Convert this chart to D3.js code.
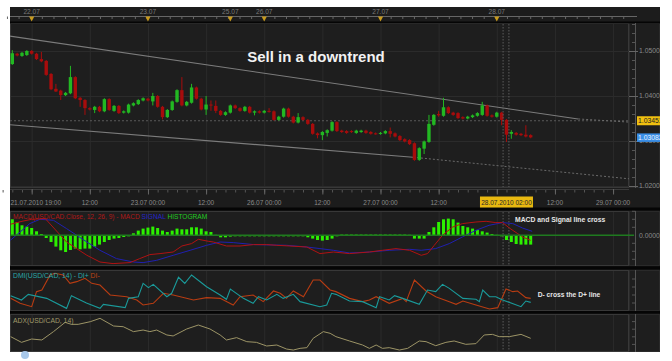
<!DOCTYPE html>
<html><head><meta charset="utf-8">
<script src="https://cdn.jsdelivr.net/npm/d3@7"></script>
<style>body{margin:0;background:#fff}svg{display:block}text{font-family:"Liberation Sans",Arial,sans-serif}</style>
</head><body>
<script>
// ---------------- DATA ----------------
const candleOpen = [1.0471,1.0494,1.0489,1.0491,1.0500,1.0494,1.0482,1.0478,1.0449,1.0416,
1.0412,1.0402,1.0406,1.0442,1.0396,1.0391,1.0373,1.0369,1.0376,1.0366,
1.0393,1.0367,1.0378,1.0363,1.0363,1.0379,1.0382,1.0390,1.0394,1.0388,
1.0400,1.0376,1.0353,1.0369,1.0387,1.0413,1.0379,1.0385,1.0419,1.0394,
1.0370,1.0381,1.0378,1.0367,1.0358,1.0363,1.0379,1.0373,1.0367,1.0376,
1.0363,1.0366,1.0363,1.0367,1.0366,1.0347,1.0354,1.0372,1.0354,1.0341,
1.0353,1.0347,1.0338,1.0317,1.0313,1.0318,1.0323,1.0342,1.0323,1.0322,
1.0322,1.0318,1.0320,1.0323,1.0320,1.0317,1.0316,1.0317,1.0322,1.0317,
1.0311,1.0304,1.0302,1.0295,1.0258,1.0283,1.0298,1.0336,1.0360,1.0356,
1.0375,1.0363,1.0362,1.0353,1.0350,1.0353,1.0356,1.0358,1.0379,1.0357,
1.0354,1.0363,1.0347,1.0316,1.0318,1.0316,1.0314,1.0313];
const candleHigh = [1.0502,1.0496,1.0498,1.0502,1.0502,1.0496,1.0498,1.0480,1.0451,1.0427,
1.0414,1.0409,1.0467,1.0444,1.0398,1.0393,1.0375,1.0378,1.0378,1.0395,
1.0395,1.0380,1.0380,1.0368,1.0383,1.0386,1.0393,1.0397,1.0396,1.0407,
1.0402,1.0378,1.0371,1.0390,1.0415,1.0442,1.0389,1.0427,1.0421,1.0396,
1.0400,1.0390,1.0390,1.0369,1.0366,1.0381,1.0381,1.0375,1.0378,1.0378,
1.0368,1.0368,1.0369,1.0373,1.0368,1.0356,1.0374,1.0374,1.0356,1.0362,
1.0355,1.0349,1.0340,1.0319,1.0322,1.0326,1.0344,1.0344,1.0325,1.0324,
1.0324,1.0325,1.0325,1.0325,1.0322,1.0319,1.0320,1.0324,1.0330,1.0319,
1.0313,1.0306,1.0304,1.0297,1.0286,1.0301,1.0358,1.0360,1.0367,1.0396,
1.0377,1.0365,1.0364,1.0355,1.0356,1.0359,1.0364,1.0387,1.0381,1.0359,
1.0365,1.0365,1.0349,1.0324,1.0320,1.0318,1.0335,1.0315];
const candleLow = [1.0469,1.0488,1.0487,1.0489,1.0492,1.0480,1.0475,1.0445,1.0413,1.0409,
1.0391,1.0400,1.0404,1.0393,1.0376,1.0358,1.0368,1.0362,1.0364,1.0364,
1.0367,1.0365,1.0360,1.0361,1.0361,1.0377,1.0380,1.0388,1.0388,1.0379,
1.0374,1.0348,1.0351,1.0367,1.0385,1.0377,1.0377,1.0383,1.0392,1.0368,
1.0358,1.0367,1.0362,1.0356,1.0356,1.0361,1.0371,1.0365,1.0365,1.0361,
1.0357,1.0361,1.0361,1.0363,1.0345,1.0345,1.0352,1.0352,1.0339,1.0339,
1.0345,1.0336,1.0314,1.0306,1.0302,1.0310,1.0321,1.0320,1.0318,1.0316,
1.0318,1.0316,1.0318,1.0316,1.0314,1.0314,1.0314,1.0315,1.0308,1.0308,
1.0300,1.0297,1.0291,1.0256,1.0256,1.0271,1.0296,1.0334,1.0354,1.0354,
1.0360,1.0356,1.0349,1.0348,1.0348,1.0351,1.0354,1.0356,1.0354,1.0352,
1.0352,1.0335,1.0298,1.0305,1.0312,1.0311,1.0308,1.0306];
const candleClose = [1.0495,1.0490,1.0496,1.0500,1.0494,1.0482,1.0477,1.0447,1.0415,1.0410,
1.0402,1.0407,1.0442,1.0395,1.0391,1.0373,1.0370,1.0376,1.0366,1.0393,
1.0369,1.0378,1.0362,1.0366,1.0381,1.0384,1.0391,1.0395,1.0390,1.0400,
1.0376,1.0353,1.0369,1.0388,1.0413,1.0379,1.0387,1.0419,1.0394,1.0370,
1.0381,1.0379,1.0367,1.0358,1.0364,1.0379,1.0373,1.0367,1.0376,1.0363,
1.0366,1.0363,1.0367,1.0365,1.0347,1.0354,1.0372,1.0354,1.0341,1.0353,
1.0347,1.0338,1.0316,1.0313,1.0320,1.0324,1.0342,1.0322,1.0320,1.0318,
1.0320,1.0323,1.0323,1.0318,1.0316,1.0316,1.0318,1.0322,1.0316,1.0310,
1.0302,1.0299,1.0293,1.0258,1.0284,1.0299,1.0338,1.0358,1.0357,1.0375,
1.0362,1.0358,1.0351,1.0350,1.0354,1.0357,1.0362,1.0379,1.0356,1.0354,
1.0363,1.0347,1.0314,1.0320,1.0314,1.0313,1.0310,1.0308];

// MACD values in units of 0.0001
const macdHist = [16,13.3,10,8.7,7.3,4,1.3,-2.7,-6.7,-11.3,
-15,-16.7,-14.7,-13.3,-14,-13.3,-13.3,-11.3,-9.3,-6.7,
-4.7,-3.3,-2.7,-1.7,-0.5,2,4.7,6.7,7.7,8.7,
7.3,4.7,3.3,4.7,6.7,6,6,8,8,6.7,
4,3.3,0.5,-2,-2,-1.3,-0.7,-0.7,-0.5,-0.7,
-0.7,-0.5,-0.7,-0.7,-0.5,-0.7,-0.7,-0.5,-0.7,-0.7,
-1,-2,-3.3,-4.7,-5.3,-4.7,-3.3,-1,0.7,0.7,
0.7,0.7,0.7,0.7,0.7,0.7,0.7,0.7,0.7,0.7,
0.7,0.7,0.5,-3.3,-3.3,-3.3,3.3,8,13.3,16,
16.7,16,12.7,9.3,8,6.7,5.3,4,2.7,1.3,
0.5,-0.5,-4.7,-6.7,-8.7,-9.3,-9.3,-9.3];
const macdIdx = [-0.4,2,4,6.8,11.2,15.4,18.1,20.8,24.3,26.3,28.4,30.5,33.2,35,37,38.4,40.5,41.5,44.2,47,49.8,52.5,54.6,57.3,60.8,63.5,66.3,69.6,73.7,76.4,79.2,82,84.4,85.7,87.1,88.8,90.9,92.9,95.7,97.8,99.8,101.2,102.6,104.3,105.5,107];
const macdVal = [11,14,16,16.7,-6.7,-20,-26.7,-28.3,-27.3,-23.3,-19.3,-18.3,-16.7,-10.7,-8.3,-4,-6,-6.7,-10.7,-10.7,-9.3,-9.3,-10,-10.7,-11.7,-18.3,-16.7,-18.3,-16.7,-15,-13.3,-15,-20,-18.3,-10,0,8.3,11.7,13.3,14,12.7,12.7,7.3,1.7,-2,-5];
const signalIdx = [-0.4,1.6,3.6,5.7,8.5,11.2,15.4,18.1,21.5,25,27,29.8,33.2,36.7,40.1,42.9,45.6,49.8,56.6,60.8,63.5,66.3,69.6,73.7,77.8,82,84.4,87.4,90.2,92.9,95.7,98.4,101.2,103.3,105.3,107.3];
const signalVal = [-5,3.3,11.7,16,15,6.7,-6.7,-15,-23.3,-26.7,-27.3,-25,-20,-15,-10,-6.7,-7.3,-9.3,-10,-11.7,-13.3,-15,-17.7,-16.7,-15,-14,-15,-13.3,-8.3,-1.7,5,10,12.7,11.7,7.3,4];

const diPlusIdx = [-0.34,1.9,3.3,7.1,11.2,12.2,15.3,18.1,18.8,23.3,24,26,27,28.1,29.1,31.9,32.9,34.3,35.6,37,40.1,42.9,44.2,45,47.7,49.7,50.8,52.5,54.6,55.9,58,59.4,63.5,64.9,65.9,66.8,69.6,72.3,75.1,75.8,77.8,78.9,80.6,84,85.7,87.4,88.8,90.2,93,95.7,96.4,97.1,98.5,99.8,101.2,105,106,107];
const diPlusVal = [19.2,13.75,20.8,15.8,3.3,19.2,10,3.3,8.3,4.2,15.8,17.9,34.6,29.2,33.3,17.9,22.1,42.1,34.6,45,30.4,20,14.6,27.5,15.8,9.6,17.9,13.75,20.8,15.8,20.8,11.7,5.4,7.5,22.1,20.8,12.5,11.7,4.2,17.9,13.75,19.2,15.8,8.3,26.25,24.2,33.3,28.3,15.8,14.6,11.7,26.25,17.9,17.9,13.75,5.4,12.5,10.8];
const diMinusIdx = [-0.34,1.6,4,5,6.1,7.8,8.8,10.5,11.9,13.3,15,16.4,18.1,20.2,23.6,25.7,27,29.1,31.2,33.2,37.4,40.1,42.9,45.6,47,49.7,51.8,53.9,55.3,56.6,58,60.1,62.1,63.5,65.6,66.8,69.6,72.3,73.7,75.1,77.8,80.6,81.3,83,85.4,87.4,90.2,91.6,93,95.7,98.5,100.2,101.9,103.3,104.3,106,107];
const diMinusVal = [15.8,9.6,5.4,24.2,26.25,45,47.1,45,34.6,36.7,40.8,34.6,32.5,20,17.9,13.75,7.5,9.6,22.1,20,13.75,16.7,15.8,7.5,17.9,20,11.7,25,22.1,15.8,25,17.9,38.75,38.75,26.25,24.2,15.8,11.7,13.75,17.9,9.6,15.8,11.7,38.75,25,17.9,11.7,8.3,12.5,7.5,2.5,4.2,27.5,24.2,25,16.7,15.8];
const adxIdx = [-0.34,1.9,4,6.1,8.5,10.9,12.2,13.6,16.1,18.1,20.9,22.9,25,27,28.4,29.8,31.9,33.2,36,38.4,40.8,42.9,44.2,46.3,48.4,50.4,52.5,54.6,56.6,58,59.4,60.8,62.1,64.2,65.6,66.8,69.6,72.3,73.7,75.1,76.4,77.8,79.9,81.6,84,85.4,87.4,89.5,91.2,93.6,95.7,97.4,99.1,100.5,102.6,105,107];
const adxVal = [20.2,12.7,17.1,15.8,26.8,39,36.4,36.4,39.9,44.3,34.2,33.3,26.8,28.9,26.8,28.9,22.4,21.1,30.3,35.5,30.3,22.4,15.8,18.9,13.6,12.7,7.9,9.2,3.9,2.6,4.8,5.7,18,26.8,24.6,20.2,14.5,9.2,4.8,9.2,4.8,5.7,2.6,4.8,14.5,13.6,8.3,12.7,14.5,10.1,11,22.4,23.2,20.2,20.2,23.2,18];

// trend lines [index, price]
const trendUpper = [[-0.5,1.0533],[116.8,1.0349],[127.3,1.0342]];
const trendLower = [[-0.5,1.0336],[82.7,1.0264],[127.3,1.0216]];
const bidPrice = 1.0345, bidText = "1.03451";
const lastPrice = 1.0308, lastText = "1.03082";

const priceTicks = [1.05,1.04,1.03,1.02];
const gridIdx = [4,16,28,40,52,64,76,88,100,112,124];
const topIdx = [4,28,45,52,76,100];
const topLabels = ["22.07","23.07","25.07","26.07","27.07","28.07"];
const timeIdx = [4,16,28,40,52,64,76,88,112,124];
const timeLabels = ["21.07.2010 19:00","12:00","23.07 00:00","12:00","26.07 00:00","12:00","27.07 00:00","12:00","12:00","29.07 00:00"];
const cursorIdx = 102, cursorText = "28.07.2010 02:00";
const crossIdx = [101.3,102.5];

// ---------------- LAYOUT ----------------
const X0=10, X1=629, XR=660;
const P = {main:[23,188], macd:[211,266], dmi:[270,311], adx:[314,352]};
const GREEN="#22b822", RED="#a80c0c", GRID="#2b2b2b", AXC="#8a8a8a";

const svg = d3.select("body").append("svg").attr("width",672).attr("height",361);
const x = d3.scaleLinear().domain([0,107]).range([12.3,530.7]);
const yP = d3.scaleLinear().domain([1.02,1.05]).range([186,51]);
const yM = d3.scaleLinear().domain([-30,30]).range([265.3,205.3]);
const yD = d3.scaleLinear().domain([0,50]).range([311,271]);
const yA = d3.scaleLinear().domain([0,50]).range([352,314]);

const defs = svg.append("defs");
Object.entries(P).forEach(([k,[t,b]])=>{
  defs.append("clipPath").attr("id","c_"+k).append("rect").attr("x",X0).attr("y",t).attr("width",X1-X0).attr("height",b-t);
});

svg.append("rect").attr("x",X0).attr("y",7).attr("width",XR-X0).attr("height",345).attr("fill","#1c1c1c");
// plot areas
Object.values(P).forEach(([t,b])=>{
  svg.append("rect").attr("x",X0+0.5).attr("y",t+0.5).attr("width",X1-X0-1).attr("height",b-t-1)
    .attr("fill","#1e1e1e").attr("stroke","#383838");
  svg.append("rect").attr("x",X1+0.5).attr("y",t+0.5).attr("width",XR-X1-1).attr("height",b-t-1)
    .attr("fill","#1e1e1e").attr("stroke","#2a2a2a");
});
// separators
[[21.5,1.8],[207.5,3],[266.3,3.2],[311,2.6]].forEach(([y,h])=>svg.append("rect").attr("x",X0).attr("y",y).attr("width",XR-X0).attr("height",h).attr("fill","#050505"));

// vertical gridlines in all panels
Object.entries(P).forEach(([k,[t,b]])=>{
  svg.append("g").selectAll("line").data(gridIdx).join("line")
    .attr("x1",d=>x(d)+0.5).attr("x2",d=>x(d)+0.5).attr("y1",t+1).attr("y2",b-1)
    .attr("stroke",GRID).attr("stroke-width",1);
});
// horizontal price grid
svg.append("g").selectAll("line").data(priceTicks).join("line")
  .attr("x1",X0+1).attr("x2",X1).attr("y1",d=>Math.round(yP(d))+0.5).attr("y2",d=>Math.round(yP(d))+0.5)
  .attr("stroke",GRID);

// ---- top strip ----
svg.append("line").attr("x1",X0).attr("x2",X1+8).attr("y1",16.5).attr("y2",16.5).attr("stroke","#666");
svg.append("g").selectAll("line").data(d3.range(-1,128,2.4)).join("line")
  .attr("x1",d=>x(d)).attr("x2",d=>x(d)).attr("y1",16.5).attr("y2",19).attr("stroke","#666");
svg.append("g").selectAll("text").data(topIdx).join("text")
  .attr("x",d=>x(d)).attr("y",14).attr("text-anchor","middle").attr("font-size",6.6).attr("fill","#7a7a7a")
  .text((d,i)=>topLabels[i]);
svg.append("g").selectAll("path").data(topIdx).join("path")
  .attr("d",d=>`M${x(d)-2.6},16.5L${x(d)+2.6},16.5L${x(d)},21.5Z`).attr("fill","#c89a1c");

// ---- right price axis ----
const ax = svg.append("g");
ax.append("line").attr("x1",635.5).attr("x2",635.5).attr("y1",P.main[0]).attr("y2",P.main[1]).attr("stroke","#555");
ax.selectAll("line.mn").data(d3.range(1.020,1.0561,0.002)).join("line")
  .attr("x1",632).attr("x2",635.5).attr("y1",d=>Math.round(yP(d))+0.5).attr("y2",d=>Math.round(yP(d))+0.5).attr("stroke","#555");
ax.selectAll("line.mj").data(priceTicks).join("line")
  .attr("x1",629).attr("x2",638).attr("y1",d=>Math.round(yP(d))+0.5).attr("y2",d=>Math.round(yP(d))+0.5).attr("stroke","#666");
ax.selectAll("text").data(priceTicks).join("text")
  .attr("x",639).attr("y",d=>yP(d)+2.4).attr("font-size",6.8).attr("fill",AXC).text(d=>d3.format(".4f")(d));

// ---- main panel marks ----
const gm = svg.append("g").attr("clip-path","url(#c_main)");
gm.append("line").attr("x1",X0).attr("x2",X1).attr("y1",yP(bidPrice)).attr("y2",yP(bidPrice))
  .attr("stroke","#5a5a5a").attr("stroke-dasharray","2,2");
function trend(arr){
  const line = d3.line().x(d=>x(d[0])).y(d=>yP(d[1]));
  gm.append("path").attr("d",line(arr.slice(0,2))).attr("fill","none").attr("stroke","#7c7c7c").attr("stroke-width",1.1);
  gm.append("path").attr("d",line(arr.slice(1))).attr("fill","none").attr("stroke","#6a6a6a").attr("stroke-width",1).attr("stroke-dasharray","2,2");
}
trend(trendUpper); trend(trendLower);
crossIdx.forEach(c=>Object.values(P).forEach(([t,b])=>svg.append("line").attr("x1",x(c)).attr("x2",x(c)).attr("y1",t+1).attr("y2",b-1)
  .attr("stroke","#5c5c5c").attr("stroke-dasharray","1.5,1.5")));
const idx = d3.range(candleOpen.length);
const col = i=>candleClose[i]>=candleOpen[i]?GREEN:RED;
gm.selectAll("line.w").data(idx).join("line")
  .attr("x1",i=>x(i)).attr("x2",i=>x(i)).attr("y1",i=>yP(candleHigh[i])).attr("y2",i=>yP(candleLow[i]))
  .attr("stroke",col).attr("stroke-width",1);
gm.selectAll("rect.b").data(idx).join("rect")
  .attr("x",i=>x(i)-1.7).attr("width",3.4)
  .attr("y",i=>yP(Math.max(candleOpen[i],candleClose[i])))
  .attr("height",i=>Math.max(1,Math.abs(yP(candleOpen[i])-yP(candleClose[i]))))
  .attr("fill",col);

svg.append("text").attr("x",316).attr("y",61.5).attr("text-anchor","middle").attr("font-size",15).attr("font-weight","bold")
  .attr("fill","#f2f2f2").text("Sell in a downtrend");

// price labels (bid / last)
svg.append("rect").attr("x",637).attr("y",yP(bidPrice)-4.5).attr("width",30).attr("height",9).attr("fill","#f0c010");
svg.append("text").attr("x",638).attr("y",yP(bidPrice)+2.4).attr("font-size",6.8).attr("fill","#222").text(bidText);
svg.append("rect").attr("x",637).attr("y",yP(lastPrice)-4).attr("width",30).attr("height",8.5).attr("fill","#3a8ee6");
svg.append("text").attr("x",638).attr("y",yP(lastPrice)+2.6).attr("font-size",6.8).attr("fill","#e8f2ff").text(lastText);

// ---- time axis ----
svg.append("line").attr("x1",X0).attr("x2",X1).attr("y1",189.5).attr("y2",189.5).attr("stroke","#3a3a3a");
svg.append("g").selectAll("line").data(d3.range(-2,126,2)).join("line")
  .attr("x1",d=>x(d)+0.5).attr("x2",d=>x(d)+0.5).attr("y1",190).attr("y2",192.5).attr("stroke","#555");
svg.append("g").selectAll("line").data(gridIdx).join("line")
  .attr("x1",d=>x(d)+0.5).attr("x2",d=>x(d)+0.5).attr("y1",189).attr("y2",194.5).attr("stroke","#666");
svg.append("g").selectAll("text").data(timeIdx).join("text")
  .attr("x",(d,i)=>i===0?X0+0.5:x(d)).attr("y",204.5).attr("text-anchor",(d,i)=>i===0?"start":"middle")
  .attr("font-size",6.5).attr("fill","#8a8a8a")
  .text((d,i)=>timeLabels[i]);
svg.append("rect").attr("x",x(cursorIdx)-26.5).attr("y",196.5).attr("width",53).attr("height",11).attr("fill","#e8b810");
svg.append("text").attr("x",x(cursorIdx)).attr("y",204.5).attr("text-anchor","middle").attr("font-size",6.5).attr("fill","#2a2a2a").text(cursorText);

// ---- MACD panel ----
const gM = svg.append("g").attr("clip-path","url(#c_macd)");
svg.append("line").attr("x1",X0).attr("x2",634).attr("y1",yM(0)).attr("y2",yM(0)).attr("stroke","#1f7a1f").attr("stroke-width",1.5);
gM.selectAll("rect").data(idx).join("rect")
  .attr("x",i=>x(i)-1.5).attr("width",3)
  .attr("y",i=>Math.min(yM(0),yM(macdHist[i])))
  .attr("height",i=>Math.max(1,Math.abs(yM(macdHist[i])-yM(0))))
  .attr("fill","#2cf000");
const lm = d3.line().x(d=>x(d[0])).y(d=>yM(d[1]));
gM.append("path").attr("d",lm(signalIdx.map((d,i)=>[d,signalVal[i]]))).attr("fill","none").attr("stroke","#2020b0").attr("stroke-width",1);
gM.append("path").attr("d",lm(macdIdx.map((d,i)=>[d,macdVal[i]]))).attr("fill","none").attr("stroke","#b01212").attr("stroke-width",1);
const lab1 = svg.append("text").attr("x",13).attr("y",218.8).attr("font-size",6.6);
lab1.append("tspan").attr("fill","#b01818").text("MACD(USD/CAD.Close, 12, 26, 9) -  MACD ");
lab1.append("tspan").attr("fill","#2424c8").text("SIGNAL ");
lab1.append("tspan").attr("fill","#22cc22").text("HISTOGRAM");
svg.append("text").attr("x",515).attr("y",222).attr("font-size",6.8).attr("font-weight","bold").attr("fill","#e6e6e6").text("MACD and Signal line cross");
// macd axis
svg.append("line").attr("x1",635.5).attr("x2",635.5).attr("y1",P.macd[0]).attr("y2",P.macd[1]).attr("stroke","#555");
svg.append("g").selectAll("line").data([-24,-16,-8,8,16,24]).join("line")
  .attr("x1",632).attr("x2",635.5).attr("y1",d=>yM(d)).attr("y2",d=>yM(d)).attr("stroke","#555");
svg.append("text").attr("x",639).attr("y",yM(0)+2.4).attr("font-size",6.8).attr("fill",AXC).text("0.0000");

// ---- DMI panel ----
const gD = svg.append("g").attr("clip-path","url(#c_dmi)");
const ld = d3.line().x(d=>x(d[0])).y(d=>yD(d[1]));
gD.append("path").attr("d",ld(diMinusIdx.map((d,i)=>[d,diMinusVal[i]]))).attr("fill","none").attr("stroke","#b83c12").attr("stroke-width",1.1);
gD.append("path").attr("d",ld(diPlusIdx.map((d,i)=>[d,diPlusVal[i]]))).attr("fill","none").attr("stroke","#1a9a9a").attr("stroke-width",1.1);
const lab2 = svg.append("text").attr("x",13).attr("y",277.5).attr("font-size",6.8);
lab2.append("tspan").attr("fill","#2aa6a6").text("DMI(USD/CAD, 14) -  DI+  ");
lab2.append("tspan").attr("fill","#c04414").text("DI-");
svg.append("text").attr("x",537.7).attr("y",296.5).attr("font-size",6.7).attr("font-weight","bold").attr("fill","#e6e6e6").text("D- cross the D+ line");
svg.append("line").attr("x1",635.5).attr("x2",635.5).attr("y1",P.dmi[0]).attr("y2",P.dmi[1]).attr("stroke","#555");
svg.append("g").selectAll("line").data([10,20,30,40]).join("line")
  .attr("x1",632).attr("x2",635.5).attr("y1",d=>yD(d)).attr("y2",d=>yD(d)).attr("stroke","#555");

// ---- ADX panel ----
const gA = svg.append("g").attr("clip-path","url(#c_adx)");
const la = d3.line().x(d=>x(d[0])).y(d=>yA(d[1]));
gA.append("path").attr("d",la(adxIdx.map((d,i)=>[d,adxVal[i]]))).attr("fill","none").attr("stroke","#9c9466").attr("stroke-width",1);
svg.append("text").attr("x",13).attr("y",322.5).attr("font-size",6.8).attr("fill","#a09a6a").text("ADX(USD/CAD, 14)");
svg.append("line").attr("x1",635.5).attr("x2",635.5).attr("y1",P.adx[0]).attr("y2",P.adx[1]).attr("stroke","#555");
svg.append("g").selectAll("line").data([10,20,30,40]).join("line")
  .attr("x1",632).attr("x2",635.5).attr("y1",d=>yA(d)).attr("y2",d=>yA(d)).attr("stroke","#555");

// small icon at the bottom left
svg.append("circle").attr("cx",25).attr("cy",355).attr("r",4).attr("fill","#a8c8ea");
// white margin at right
svg.append("rect").attr("x",XR).attr("y",0).attr("width",12).attr("height",361).attr("fill","#fff");
</script>
</body></html>
